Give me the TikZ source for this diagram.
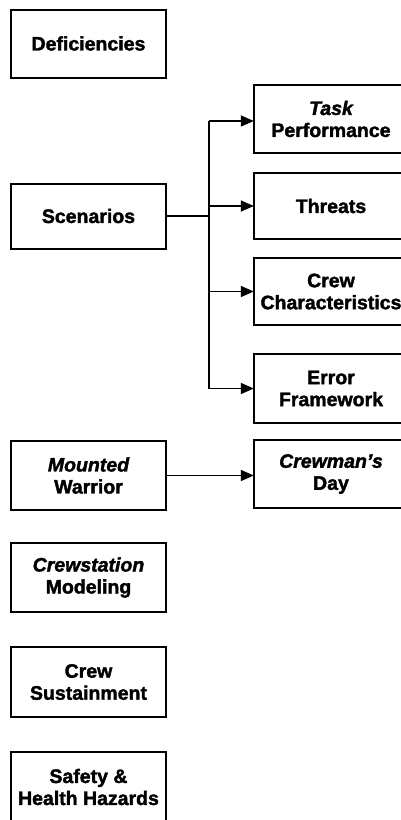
\documentclass[tikz,border=0pt]{standalone}
\usepackage{fontspec}
\setmainfont{Liberation Sans}[BoldFeatures={FakeBold=1.8},BoldItalicFeatures={FakeBold=1.8}]
\usetikzlibrary{arrows.meta,shadows}
\begin{document}
\begin{tikzpicture}[x=1pt,y=-1pt,
  frame/.style={draw=black, line width=2pt, fill=white,
    drop shadow={shadow xshift=0.8pt, shadow yshift=-1pt, fill=black, opacity=1}},
  txt/.style={align=center, font=\fontsize{19.5}{22}\selectfont\bfseries, inner sep=0pt, minimum height=68pt},
  box/.style={txt, frame},
  lbox/.style={box, minimum width=155pt},
  rbox/.style={txt, minimum width=154pt},
  conn/.style={line width=1.5pt, draw=black},
  arr/.style={conn, -{Triangle[length=13pt,width=11pt]}}]
\useasboundingbox (0,0) rectangle (400,820);
\node[lbox] (def) at (88.5,43.5) {Deficiencies};
\node[lbox, minimum height=65pt] (scen) at (88.5,216) {Scenarios};
\node[lbox, minimum height=69pt] (mw) at (88.5,475.5) {\itshape Mounted\\Warrior};
\node[lbox, minimum height=69pt] (cm) at (88.5,577.5) {\itshape Crewstation\\Modeling};
\node[lbox, minimum height=70pt] (cs) at (88.5,682) {Crew\\Sustainment};
\node[lbox, minimum height=70pt] (sh) at (88.5,787) {Safety \&\\Health Hazards};

% right-hand boxes: frames run past the right edge of the picture
\path[frame] (254,85) rectangle (430,153);
\path[frame] (254,173) rectangle (430,239);
\path[frame] (254,258) rectangle (430,325);
\path[frame] (254,354) rectangle (430,423);
\path[frame] (254,440) rectangle (430,508);
\node[rbox] (tp) at (331,119) {\itshape Task\\Performance};
\node[rbox, minimum height=66pt] (th) at (331,206) {Threats};
\node[rbox, minimum height=67pt] (cc) at (331,291.5) {Crew\\Characteristics};
\node[rbox, minimum height=69pt] (ef) at (331,388.5) {Error\\Framework};
\node[rbox] (cd) at (331,474) {\itshape Crewman’s\\Day};

\coordinate (tt) at (209,121);
\coordinate (tb) at (209,388.5);
\coordinate (tm) at (209,216);
\draw[conn] (scen.east) -- (tm);
\draw[conn] (tt) -- (tb);
\draw[arr] (tt) -- (tp.west |- tt);
\draw[arr] (tm |- th.west) -- (th.west);
\draw[arr] (tm |- cc.west) -- (cc.west);
\draw[arr] (tb) -- (ef.west);
\draw[arr] (mw.east) -- (cd.west |- mw.east);
\end{tikzpicture}
\end{document}
